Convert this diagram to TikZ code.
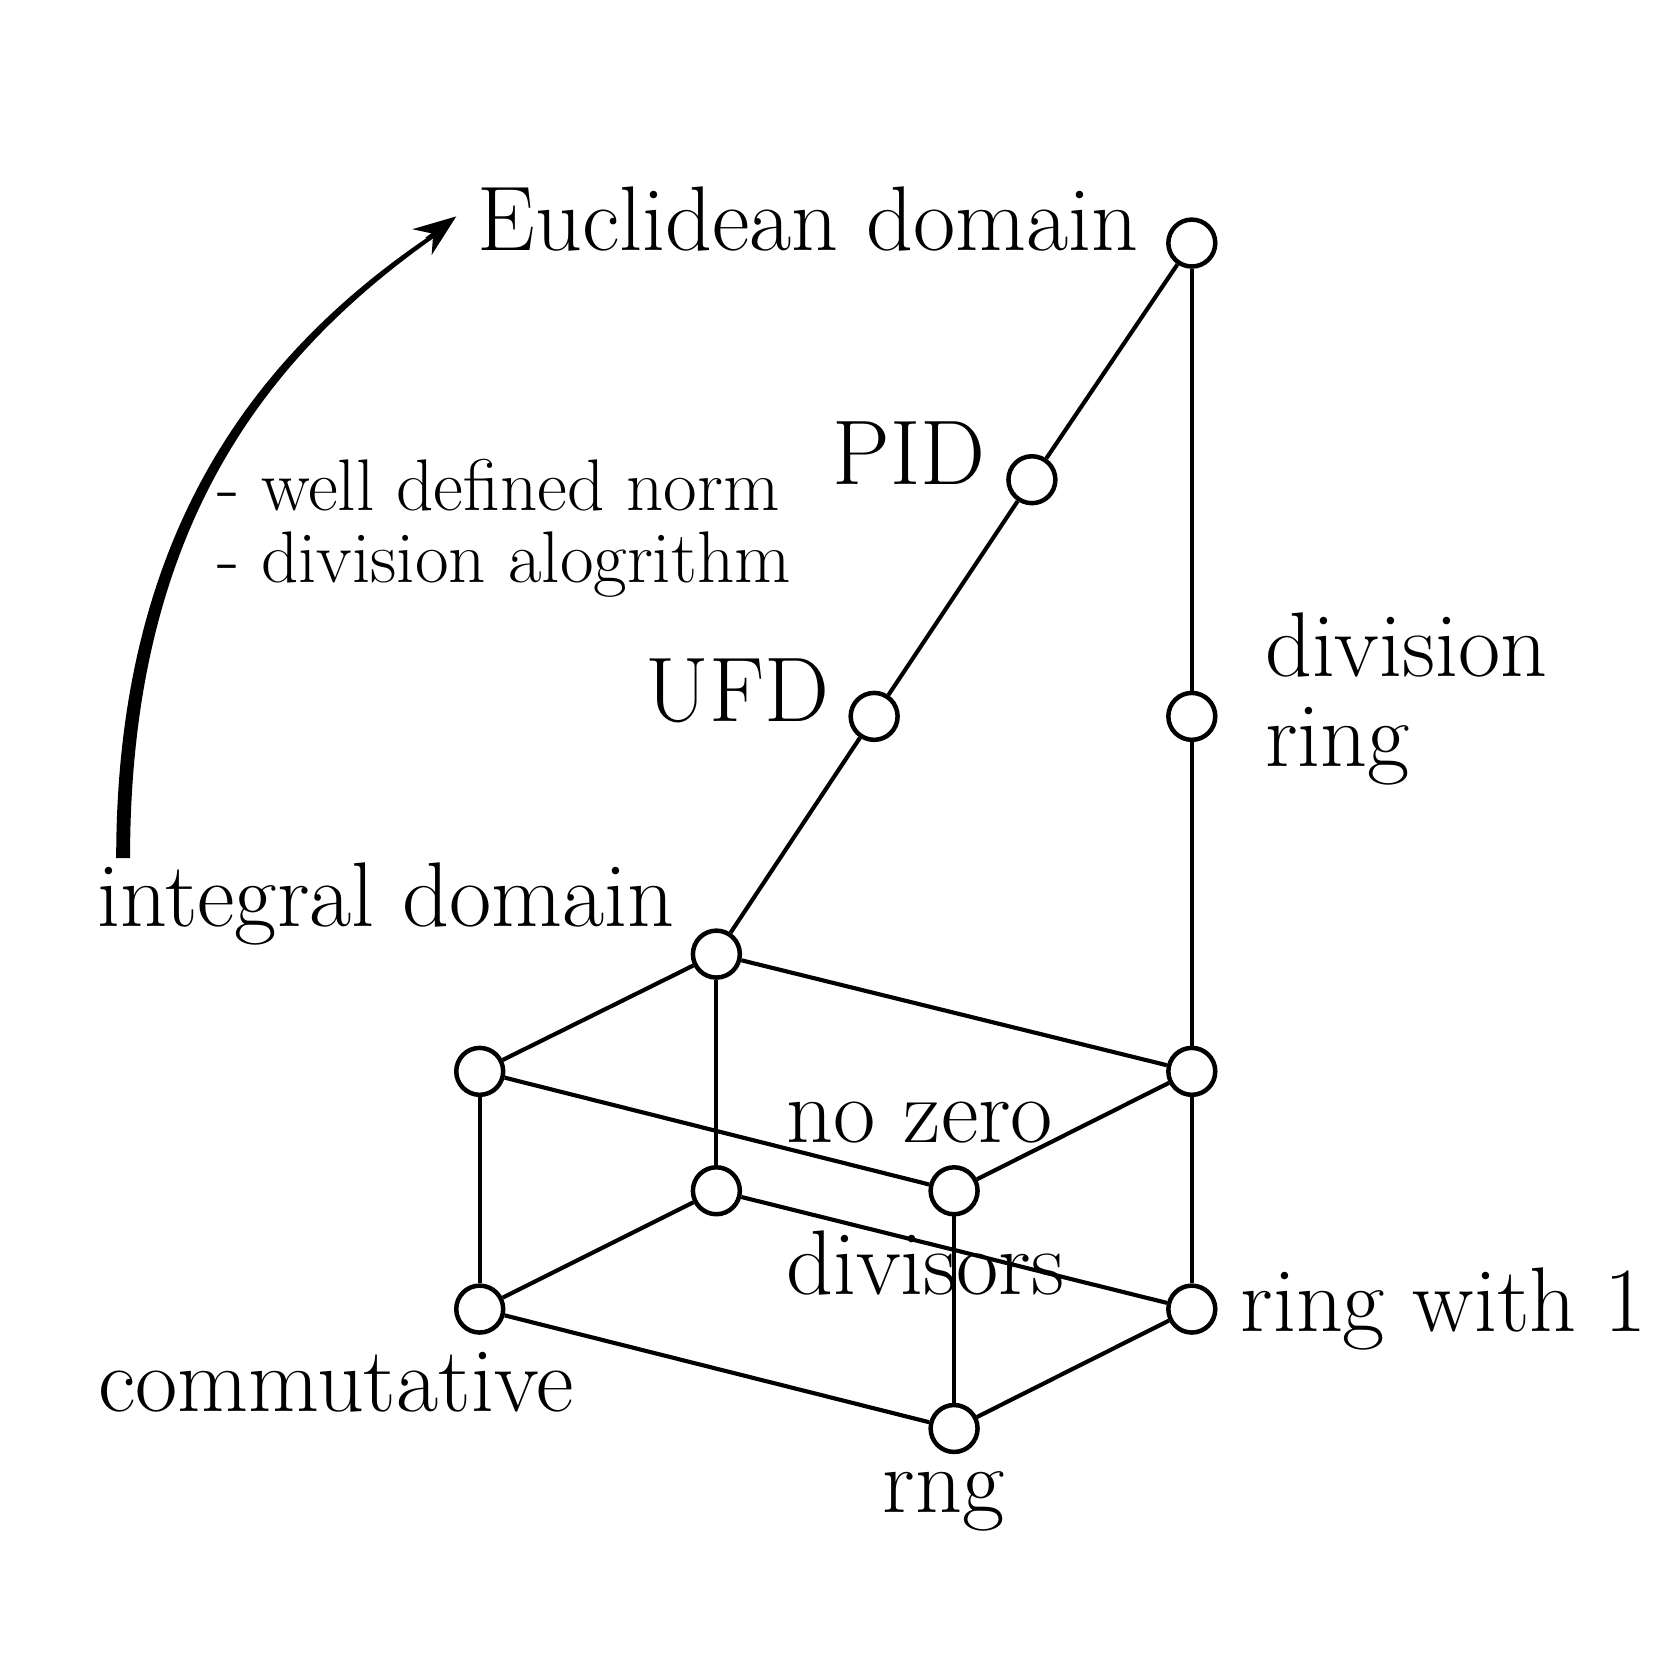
\documentclass[tikz,border=0pt]{standalone}
\usetikzlibrary{arrows.meta}
\begin{document}
\begin{tikzpicture}[x=0.01cm,y=-0.01cm,
  v/.style={circle,draw,fill=white,line width=1.2pt,minimum size=0.44cm,inner sep=0pt},
  lab/.style={font=\fontsize{24.5}{29}\selectfont,inner sep=0pt},
  sm/.style={font=\fontsize{19.5}{23}\selectfont,inner sep=0pt,anchor=west},
  e/.style={line width=1.1pt}]
\useasboundingbox (0,0) rectangle (1560,1560);
\node[v] (E) at (1118,228) {};
\node[v] (PID) at (968,450) {};
\node[v] (UFD) at (820,672) {};
\node[v] (ID) at (672,895) {};
\node[v] (DR) at (1118,672) {};
\node[v] (A) at (450,1005) {};
\node[v] (B) at (1118,1005) {};
\node[v] (NZ) at (895,1117) {};
\node[v] (C) at (672,1117) {};
\node[v] (CM) at (450,1228) {};
\node[v] (R1) at (1118,1228) {};
\node[v] (RN) at (895,1340) {};
\foreach \a/\b in {E/PID,PID/UFD,UFD/ID,E/DR,DR/B,ID/A,ID/B,ID/C,A/CM,A/NZ,B/NZ,B/R1,C/CM,C/R1,NZ/RN,CM/RN,R1/RN}
  \draw[e] (\a) -- (\b);
\node[lab] at (758,205) {Euclidean domain};
\node[lab] at (853,425) {PID};
\node[lab] at (692,648) {UFD};
\node[lab,anchor=west] at (1186,605) {division};
\node[lab,anchor=west] at (1186,700) {ring};
\node[lab] at (362,848) {integral domain};
\node[lab] at (863,1053) {no zero};
\node[lab] at (868,1185) {divisors};
\node[lab,anchor=west] at (1163,1228) {ring with 1};
\node[lab] at (315,1297) {commutative};
\node[lab] at (885,1408) {rng};
\node[sm] at (203,455) {- well defined norm};
\node[sm] at (203,530) {- division alogrithm};
% tapered arrow
\fill (109,805) .. controls (109,500) and (240,330) .. (408,218)
  -- (410,221) .. controls (246,336) and (122,500) .. (122,805) -- cycle;
\coordinate (t0) at (400,224);
\coordinate (t1) at (428,203);
\draw[line width=0.8pt,-{Stealth[length=0.4cm,width=0.3cm]}] (t0) -- (t1);
\end{tikzpicture}
\end{document}
